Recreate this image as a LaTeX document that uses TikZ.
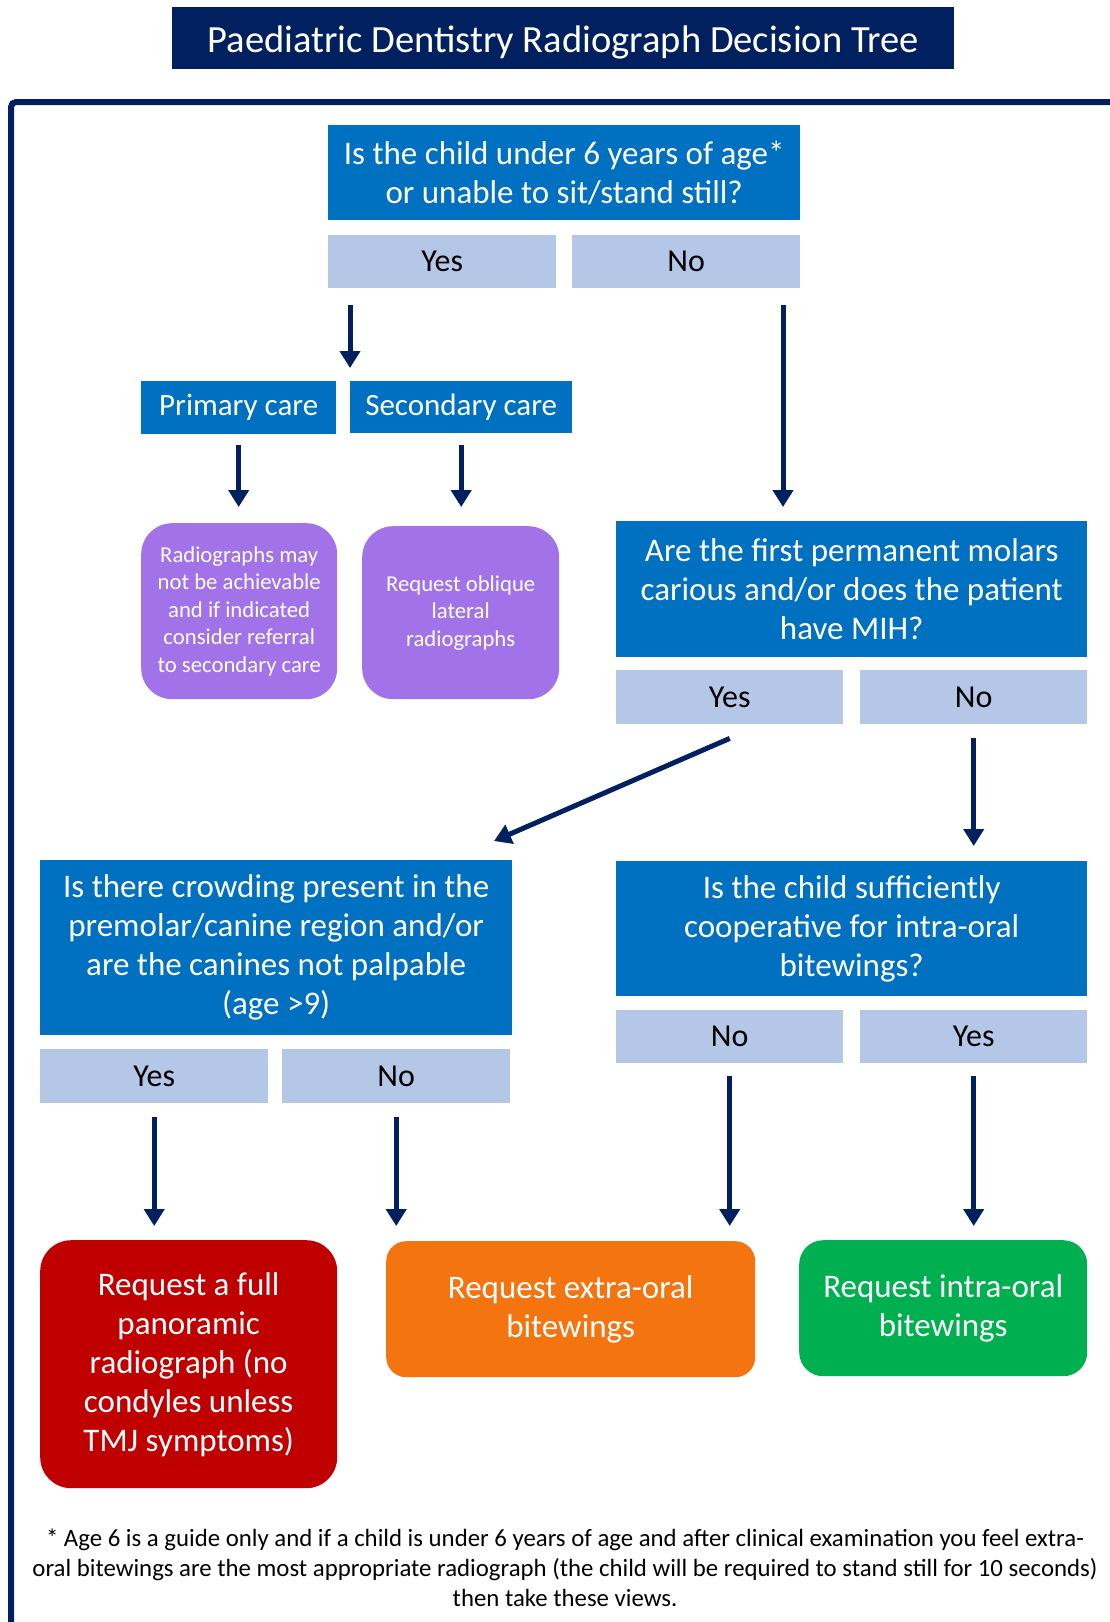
\documentclass[tikz,border=0pt]{standalone}
\usepackage{fontspec}
\setmainfont{Carlito}
\usetikzlibrary{arrows.meta,calc}
\definecolor{navy}{RGB}{0,32,96}
\definecolor{qblue}{RGB}{0,112,192}
\definecolor{lblue}{RGB}{180,199,231}
\definecolor{purp}{RGB}{161,114,232}
\definecolor{redb}{RGB}{192,0,0}
\definecolor{orangeb}{RGB}{244,116,16}
\definecolor{greenb}{RGB}{0,176,80}
\tikzset{
  box/.style={anchor=north west, inner sep=0pt, align=center, font=\fontsize{33}{39}\selectfont},
  qbox/.style={box, fill=qblue, text=white},
  ansbox/.style={box, fill=lblue, text=black, font=\fontsize{32}{38}\selectfont},
  carebox/.style={box, fill=qblue, text=white, font=\fontsize{31}{37}\selectfont},
  purpbox/.style={box, fill=purp, text=white, rounded corners=31pt, font=\fontsize{22.7}{27.4}\selectfont},
  endbox/.style={box, text=white},
  arr/.style={draw=navy, line width=5pt, -{Triangle[width=20pt,length=17pt]}, navy},
}
\begin{document}
\begin{tikzpicture}[x=1pt,y=-1pt]
\useasboundingbox (0,0) rectangle (1110,1622);
\fill[white] (0,0) rectangle (1110,1622);
% title
\node[box, fill=navy, text=white, minimum width=782, minimum height=62, font=\fontsize{38.5}{44}\selectfont] (title) at (172,7) {\raisebox{-4pt}[\height][\depth]{Paediatric Dentistry Radiograph Decision Tree}};
% frame
\draw[navy, line width=6pt, rounded corners=5pt] (11,1630) -- (11,102) -- (1120,102);
% level 1
\node[qbox, minimum width=472, minimum height=95] (q1) at (328,125) {Is the child under 6 years of age*\\or unable to sit/stand still?};
\node[ansbox, minimum width=228, minimum height=53] (yes1) at (328,235) {Yes};
\node[ansbox, minimum width=228, minimum height=53] (no1) at (572,235) {No};
% care
\node[carebox, minimum width=195, minimum height=53] (prim) at (141,381) {Primary care};
\node[carebox, minimum width=222, minimum height=52] (sec) at (350,381) {Secondary care};
\node[purpbox, minimum width=196, minimum height=176] (p1) at (141,523) {Radiographs may\\not be achievable\\and if indicated\\consider referral\\to secondary care};
\node[purpbox, minimum width=197, minimum height=173] (p2) at (362,526) {Request oblique\\lateral\\radiographs};
% Q2
\node[qbox, minimum width=471, minimum height=136] (q2) at (616,521) {Are the first permanent molars\\carious and/or does the patient\\have MIH?};
\node[ansbox, minimum width=227, minimum height=54] (yes2) at (616,670) {Yes};
\node[ansbox, minimum width=227, minimum height=54] (no2) at (860,670) {No};
% Q3
\node[qbox, minimum width=472, minimum height=175] (q3) at (40,860) {Is there crowding present in the\\premolar/canine region and/or\\are the canines not palpable\\(age >9)};
\node[ansbox, minimum width=228, minimum height=54] (yes3) at (40,1049) {Yes};
\node[ansbox, minimum width=228, minimum height=54] (no3) at (282,1049) {No};
% Q4
\node[qbox, minimum width=471, minimum height=135] (q4) at (616,861) {Is the child sufficiently\\cooperative for intra-oral\\bitewings?};
\node[ansbox, minimum width=227, minimum height=53] (no4) at (616,1010) {No};
\node[ansbox, minimum width=227, minimum height=53] (yes4) at (860,1010) {Yes};
% end boxes
\node[endbox, fill=redb, rounded corners=31pt, minimum width=297, minimum height=248] (red) at (40,1240) {Request a full\\panoramic\\radiograph (no\\condyles unless\\TMJ symptoms)};
\node[endbox, fill=orangeb, rounded corners=20pt, minimum width=369, minimum height=136] (orange) at (386,1241) {Request extra-oral\\bitewings};
\node[endbox, fill=greenb, rounded corners=24pt, minimum width=288, minimum height=136] (green) at (799,1240) {Request intra-oral\\bitewings};
% footnote
\node[anchor=north, inner sep=0pt, align=center, font=\fontsize{24.8}{30}\selectfont] (foot) at (565,1529) {* Age 6 is a guide only and if a child is under 6 years of age and after clinical examination you feel extra-\\oral bitewings are the most appropriate radiograph (the child will be required to stand still for 10 seconds)\\then take these views.};
% arrows
\coordinate (n1s) at (783,305);
\coordinate (n1e) at (783,507);
\coordinate (diage) at (494,841);
\draw[arr] ([yshift=-17pt]sec.west |- yes1.south) -- ([yshift=13pt]sec.north west);
\draw[arr] (n1s) -- (n1e);
\draw[arr] ([yshift=-11pt]prim.south) -- ([yshift=16pt]prim.south |- p1.north);
\draw[arr] ([yshift=-12pt]sec.south) -- ([yshift=19pt]sec.south |- p2.north);
\draw[arr] ([yshift=-14pt]yes2.south) -- (diage);
\draw[arr] ([yshift=-14pt]no2.south) -- ([yshift=15pt]no2.south |- q4.north);
\draw[arr] ([yshift=-14pt]yes3.south) -- ([yshift=14pt]yes3.south |- red.north);
\draw[arr] ([yshift=-14pt]no3.south) -- ([yshift=15pt]no3.south |- orange.north);
\draw[arr] ([yshift=-13pt]no4.south) -- ([yshift=15pt]no4.south |- orange.north);
\draw[arr] ([yshift=-13pt]yes4.south) -- ([yshift=14pt]yes4.south |- green.north);
\end{tikzpicture}
\end{document}
